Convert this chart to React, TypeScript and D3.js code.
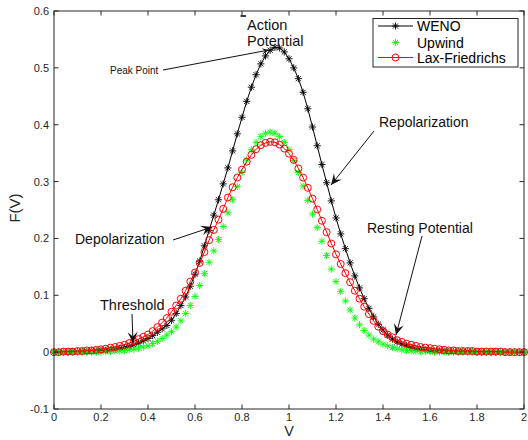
import React from 'react';
import * as d3 from 'd3';

// sample grid: V from 0 to 2, step 0.02 (101 points)
const vGrid = d3.range(0, 101).map(i => +(i * 0.02).toFixed(2));

const weno = [
  0.000, 0.000, 0.000, 0.000, 0.001, 0.001, 0.001, 0.001, 0.002, 0.002,
  0.003, 0.003, 0.004, 0.005, 0.007, 0.008, 0.010, 0.013, 0.016, 0.020,
  0.024, 0.029, 0.035, 0.041, 0.047, 0.056, 0.068, 0.082, 0.097, 0.116,
  0.137, 0.160, 0.187, 0.214, 0.241, 0.268, 0.296, 0.324, 0.354, 0.384,
  0.413, 0.441, 0.466, 0.488, 0.507, 0.521, 0.531, 0.536, 0.535, 0.528,
  0.516, 0.500, 0.481, 0.457, 0.428, 0.396, 0.363, 0.330, 0.298, 0.266,
  0.236, 0.208, 0.182, 0.157, 0.134, 0.113, 0.094, 0.077, 0.062, 0.049,
  0.039, 0.030, 0.023, 0.018, 0.014, 0.011, 0.008, 0.006, 0.005, 0.004,
  0.003, 0.002, 0.002, 0.002, 0.001, 0.001, 0.001, 0.001, 0.001, 0.001,
  0.000, 0.000, 0.000, 0.000, 0.000, 0.000, 0.000, 0.000, 0.000, 0.000,
  0.000,
];

const upwind = [
  0.000, 0.000, 0.000, 0.000, 0.000, 0.000, 0.000, 0.000, 0.000, 0.000,
  0.000, 0.001, 0.001, 0.002, 0.002, 0.003, 0.004, 0.005, 0.007, 0.009,
  0.011, 0.015, 0.019, 0.024, 0.030, 0.036, 0.044, 0.055, 0.068, 0.082,
  0.098, 0.117, 0.138, 0.158, 0.178, 0.198, 0.221, 0.245, 0.268, 0.291,
  0.316, 0.338, 0.356, 0.369, 0.379, 0.385, 0.387, 0.385, 0.379, 0.369,
  0.356, 0.337, 0.316, 0.292, 0.267, 0.243, 0.219, 0.195, 0.170, 0.146,
  0.124, 0.107, 0.090, 0.074, 0.060, 0.048, 0.038, 0.030, 0.023, 0.018,
  0.014, 0.011, 0.008, 0.006, 0.004, 0.003, 0.002, 0.002, 0.001, 0.001,
  0.001, 0.000, 0.000, 0.000, 0.000, 0.000, 0.000, 0.000, 0.000, 0.000,
  0.000, 0.000, 0.000, 0.000, 0.000, 0.000, 0.000, 0.000, 0.000, 0.000,
  0.000,
];

const laxFriedrichs = [
  0.000, 0.000, 0.001, 0.001, 0.001, 0.002, 0.002, 0.003, 0.003, 0.004,
  0.005, 0.006, 0.008, 0.009, 0.011, 0.013, 0.016, 0.019, 0.023, 0.027,
  0.031, 0.037, 0.044, 0.052, 0.060, 0.071, 0.082, 0.094, 0.108, 0.124,
  0.140, 0.157, 0.176, 0.197, 0.215, 0.233, 0.252, 0.272, 0.290, 0.307,
  0.321, 0.335, 0.347, 0.357, 0.364, 0.368, 0.370, 0.369, 0.365, 0.358,
  0.349, 0.338, 0.323, 0.307, 0.289, 0.270, 0.251, 0.231, 0.211, 0.191,
  0.172, 0.155, 0.139, 0.123, 0.108, 0.094, 0.080, 0.067, 0.055, 0.045,
  0.037, 0.031, 0.026, 0.021, 0.018, 0.015, 0.013, 0.011, 0.009, 0.008,
  0.007, 0.006, 0.005, 0.004, 0.003, 0.003, 0.002, 0.002, 0.002, 0.002,
  0.001, 0.001, 0.001, 0.001, 0.001, 0.001, 0.000, 0.000, 0.000, 0.000,
  0.000,
];

const xTicks = [0, 0.2, 0.4, 0.6, 0.8, 1, 1.2, 1.4, 1.6, 1.8, 2];
const yTicks = [-0.1, 0, 0.1, 0.2, 0.3, 0.4, 0.5, 0.6];
const seriesNames = ['WENO', 'Upwind', 'Lax-Friedrichs'];

const W = 528;
const H = 440;
const FONT = '"Liberation Sans", Arial, Helvetica, sans-serif';
const AXIS = '#262626';

const x = d3.scaleLinear().domain([0, 2]).range([54, 524]);
const y = d3.scaleLinear().domain([-0.1, 0.6]).range([409, 11]);

const lineGen = d3.line<number>()
  .x((_, i) => x(vGrid[i]))
  .y(d => y(d));

// MATLAB style '*' marker
const star = (cx: number, cy: number, r: number) => {
  const d = r * 0.72;
  return `M${cx - r},${cy}L${cx + r},${cy}M${cx},${cy - r}L${cx},${cy + r}` +
    `M${cx - d},${cy - d}L${cx + d},${cy + d}M${cx - d},${cy + d}L${cx + d},${cy - d}`;
};

const arrowHead = (x1: number, y1: number, x2: number, y2: number, len = 10, half = 4.5) => {
  const dx = x2 - x1, dy = y2 - y1;
  const l = Math.hypot(dx, dy);
  const ux = dx / l, uy = dy / l;
  const nx = -uy, ny = ux;
  const bx = x2 - ux * len, by = y2 - uy * len;
  const mx = x2 - ux * len * 0.6, my = y2 - uy * len * 0.6;
  return `M${x2},${y2}L${bx + nx * half},${by + ny * half}L${mx},${my}L${bx - nx * half},${by - ny * half}Z`;
};

// annotation layout (pixels)
const notes = [
  { lines: ['Action', 'Potential'], tx: 247, ty: 30, size: 14.5 },
  { lines: ['Peak Point'], tx: 110, ty: 74, size: 10, arrow: [163, 70, 269, 50], head: [7, 3] },
  { lines: ['Repolarization'], tx: 379, ty: 127, size: 14, arrow: [374, 131, 331, 185], head: [11, 5] },
  { lines: ['Depolarization'], tx: 75, ty: 244, size: 14, arrow: [173, 240, 212, 227], head: [11, 5] },
  { lines: ['Threshold'], tx: 100, ty: 310, size: 14.5, arrow: [132, 314, 133, 343], head: [11, 5] },
  { lines: ['Resting Potential'], tx: 367, ty: 233, size: 14, arrow: [422, 236, 396, 335], head: [11, 5] },
];

export default function App() {
  const legendRows = [26, 42.5, 57.5];
  return (
    <svg width={W} height={H} style={{ position: 'absolute', left: 0, top: 0, background: '#fff' }}
      fontFamily={FONT}>
      <rect x={0} y={0} width={W} height={H} fill="#fff" />

      {/* WENO */}
      <path d={lineGen(weno) || ''} fill="none" stroke="#000" strokeWidth={1} />
      <path d={weno.map((v, i) => star(x(vGrid[i]), y(v), 3.6)).join('')} stroke="#000" strokeWidth={0.9} fill="none" />

      {/* Upwind */}
      <path d={upwind.map((v, i) => star(x(vGrid[i]), y(v), 3.6)).join('')} stroke="#00ff00" strokeWidth={0.9} fill="none" />

      {/* Lax-Friedrichs */}
      <path d={lineGen(laxFriedrichs) || ''} fill="none" stroke="#ff0000" strokeWidth={1} />
      {laxFriedrichs.map((v, i) => (
        <circle key={i} cx={x(vGrid[i])} cy={y(v)} r={3.5} fill="none" stroke="#ff0000" strokeWidth={1} />
      ))}

      {/* axes box and ticks */}
      <rect x={54} y={11} width={470} height={398} fill="none" stroke={AXIS} strokeWidth={1} />
      {xTicks.map(t => (
        <g key={'x' + t}>
          <line x1={x(t)} x2={x(t)} y1={409} y2={404.5} stroke={AXIS} />
          <line x1={x(t)} x2={x(t)} y1={11} y2={15.5} stroke={AXIS} />
          <text x={x(t)} y={421} fontSize={11} fill={AXIS} textAnchor="middle">{t}</text>
        </g>
      ))}
      {yTicks.map(t => (
        <g key={'y' + t}>
          <line x1={54} x2={58.5} y1={y(t)} y2={y(t)} stroke={AXIS} />
          <line x1={524} x2={519.5} y1={y(t)} y2={y(t)} stroke={AXIS} />
          <text x={49} y={y(t) + 4} fontSize={11} fill={AXIS} textAnchor="end">{t}</text>
        </g>
      ))}
      <line x1={240.5} x2={246} y1={16} y2={16} stroke="#000" strokeWidth={1.5} />

      <text x={289} y={435.5} fontSize={14.5} fill={AXIS} textAnchor="middle">V</text>
      <text transform="translate(20,208) rotate(-90)" fontSize={15} fill={AXIS} textAnchor="middle">F(V)</text>

      {/* annotations */}
      {notes.map((n, k) => (
        <g key={k}>
          {n.lines.map((s, j) => (
            <text key={j} x={n.tx} y={n.ty + j * 16} fontSize={n.size} fill="#111">{s}</text>
          ))}
          {n.arrow && (
            <>
              <line x1={n.arrow[0]} y1={n.arrow[1]} x2={n.arrow[2]} y2={n.arrow[3]} stroke="#111" strokeWidth={1} />
              <path d={arrowHead(n.arrow[0], n.arrow[1], n.arrow[2], n.arrow[3], n.head![0], n.head![1])} fill="#111" />
            </>
          )}
        </g>
      ))}

      {/* legend */}
      <rect x={373} y={18.5} width={145} height={48.5} fill="#fff" stroke={AXIS} strokeWidth={1} />
      <line x1={378} x2={413} y1={legendRows[0]} y2={legendRows[0]} stroke="#000" />
      <path d={star(395.5, legendRows[0], 3.6)} stroke="#000" strokeWidth={0.9} />
      <path d={star(395.5, legendRows[1], 3.6)} stroke="#00ff00" strokeWidth={0.9} />
      <line x1={378} x2={413} y1={legendRows[2]} y2={legendRows[2]} stroke="#ff0000" />
      <circle cx={395.5} cy={legendRows[2]} r={3.5} fill="none" stroke="#ff0000" />
      {seriesNames.map((s, i) => (
        <text key={s} x={417} y={legendRows[i] + 5} fontSize={14} fill="#000">{s}</text>
      ))}
    </svg>
  );
}
